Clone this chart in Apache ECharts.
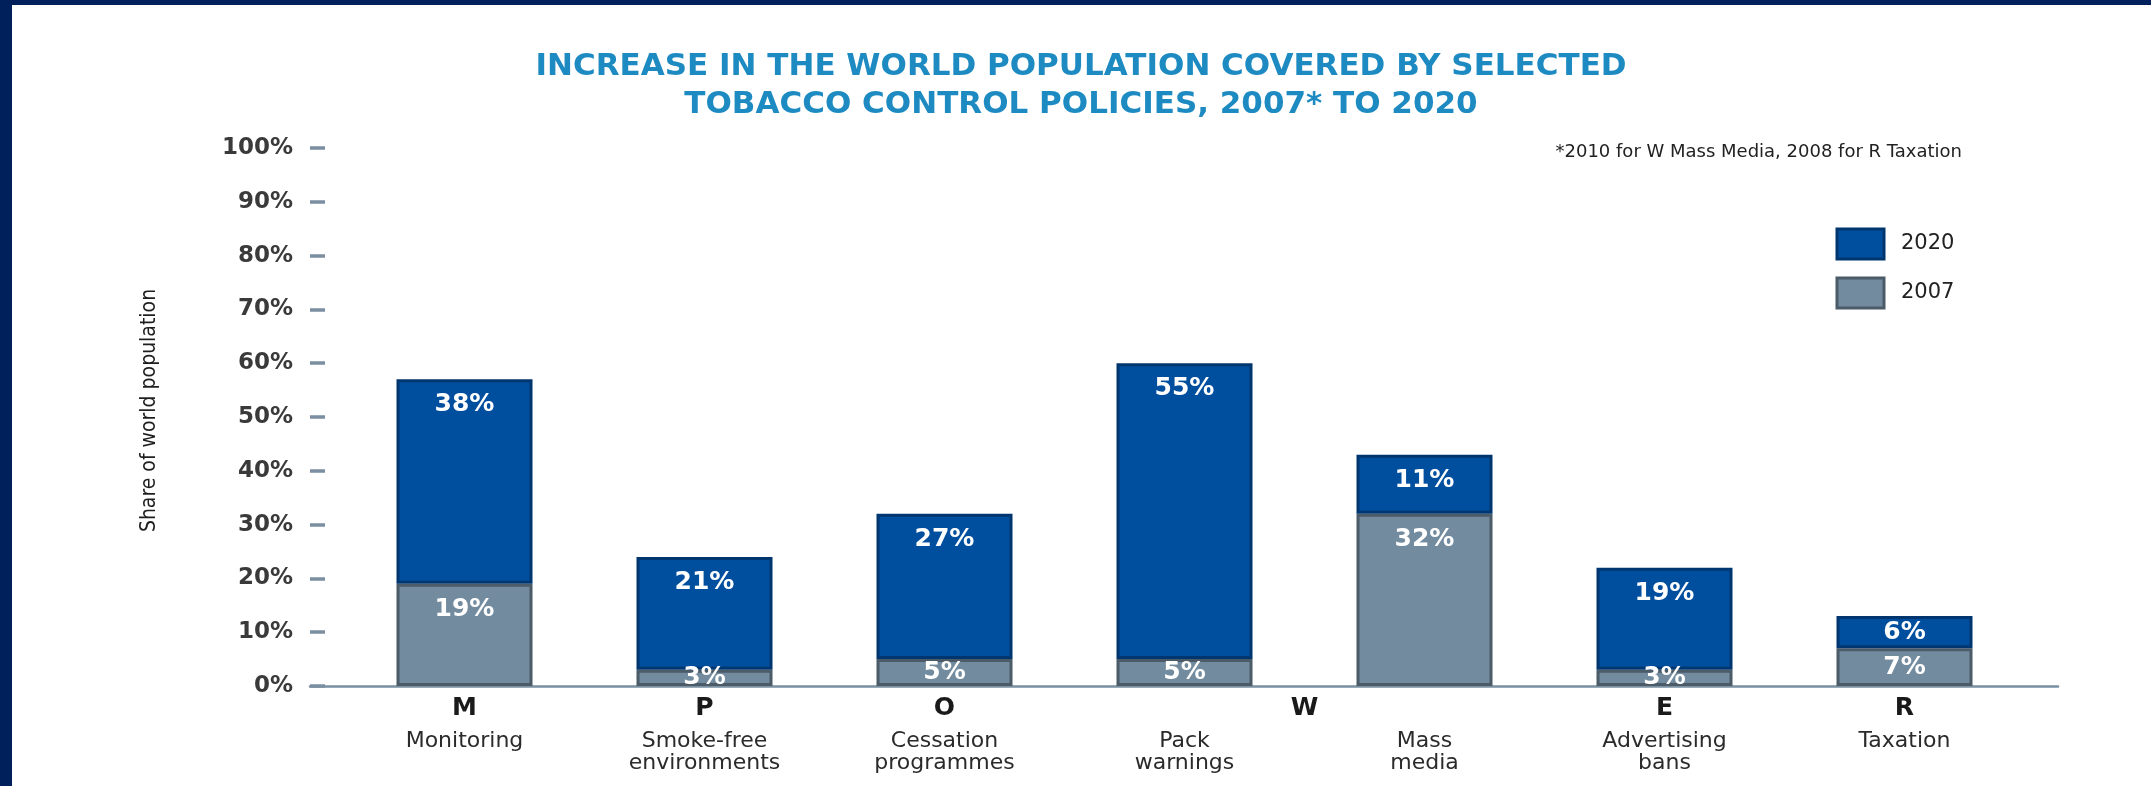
<!DOCTYPE html>
<html>
<head>
<meta charset="utf-8">
<title>Tobacco control policies coverage</title>
<script src="https://cdn.jsdelivr.net/npm/echarts@6/dist/echarts.min.js"></script>
<style>
  html, body { margin: 0; padding: 0; background: #ffffff; overflow: hidden; }
  #chart { position: absolute; left: 0; top: 0; width: 2151px; height: 786px; }
  .frame-top { position: absolute; left: 0; top: 0; width: 2151px; height: 5px; background: #00205B; }
  .frame-left { position: absolute; left: 0; top: 0; width: 12px; height: 786px; background: #00205B; }
</style>
</head>
<body>
<div id="chart"></div>
<div class="frame-top"></div>
<div class="frame-left"></div>
<script>
// MPOWER policy groups (W covers both pack warnings and mass media)
const policyCodes = ['M', 'P', 'O', 'W', 'W', 'E', 'R'];
const policyNames = ['Monitoring', 'Smoke-free\nenvironments', 'Cessation\nprogrammes', 'Pack\nwarnings', 'Mass\nmedia', 'Advertising\nbans', 'Taxation'];

// Share of world population covered in 2007 and the increase up to 2020 (%)
const coverage2007 = [19, 3, 5, 5, 32, 3, 7];
const increaseTo2020 = [38, 21, 27, 55, 11, 19, 6];

const seriesNames = ['2020', '2007'];
const titleLines = ['INCREASE IN THE WORLD POPULATION COVERED BY SELECTED', 'TOBACCO CONTROL POLICIES, 2007* TO 2020'];
const footnote = '*2010 for W Mass Media, 2008 for R Taxation';
const yAxisTitle = 'Share of world population';

const FONT = "'DejaVu Sans', 'Noto Sans', sans-serif";
const NARROW = "'Liberation Sans Narrow', 'DejaVu Sans Condensed', 'Roboto Condensed', 'Liberation Sans', sans-serif";

const W = 2151;
const plotTop = 148, plotBottom = 100;
const axisLeft = 310, axisRight = 93;
const barsLeft = 344.5, barsRight = 126.5;
const bandWidth = (W - barsLeft - barsRight) / policyNames.length;

const chart = echarts.init(document.getElementById('chart'), null, { renderer: 'canvas' });

function categoryLabel(value, index) {
  const code = policyCodes[index];
  let first;
  if (index > 0 && policyCodes[index - 1] === code) {
    first = '{l| }';
  } else if (policyCodes[index + 1] === code) {
    first = '{w|' + code + '}';
  } else {
    first = '{l|' + code + '}';
  }
  const rest = policyNames[index].split('\n').map(s => '{s|' + s + '}').join('\n');
  return first + '\n' + rest;
}

function segmentData(values) {
  return values.map(v => ({
    value: v,
    label: { position: v < 10 ? 'inside' : 'insideTop', distance: 13 }
  }));
}

const barLabel = {
  show: true,
  formatter: '{c}%',
  color: '#ffffff',
  fontFamily: FONT,
  fontWeight: 'bold',
  fontSize: 25
};

const option = {
  backgroundColor: '#ffffff',
  animation: false,
  title: [
    {
      text: titleLines.join('\n'),
      left: 1081,
      top: 48,
      textAlign: 'center',
      padding: 0,
      textStyle: {
        fontFamily: FONT,
        fontWeight: 'bold',
        fontSize: 31,
        lineHeight: 38,
        color: '#1D8BC1'
      }
    },
    {
      text: footnote,
      right: 189,
      top: 143,
      padding: 0,
      textStyle: {
        fontFamily: FONT,
        fontWeight: 'normal',
        fontSize: 18,
        lineHeight: 18,
        color: '#222222'
      }
    }
  ],
  legend: {
    data: seriesNames,
    orient: 'vertical',
    left: 1835.5,
    top: 227.5,
    padding: 0,
    itemWidth: 47,
    itemHeight: 30,
    itemGap: 16,
    icon: 'rect',
    itemStyle: { borderWidth: 3 },
    textStyle: {
      fontFamily: FONT,
      fontSize: 21,
      color: '#222222',
      padding: [0, 0, 0, 12]
    }
  },
  grid: [
    { left: axisLeft, right: axisRight, top: plotTop, bottom: plotBottom, containLabel: false },
    { left: barsLeft, right: barsRight, top: plotTop, bottom: plotBottom, containLabel: false }
  ],
  xAxis: [
    {
      gridIndex: 0,
      type: 'value',
      min: 0,
      max: 1,
      axisLine: { show: true, lineStyle: { color: '#7890A2', width: 2.5 } },
      axisTick: { show: false },
      axisLabel: { show: false },
      splitLine: { show: false }
    },
    {
      gridIndex: 1,
      type: 'category',
      data: policyNames,
      axisLine: { show: false },
      axisTick: { show: false },
      splitLine: { show: false },
      axisLabel: {
        interval: 0,
        margin: 1,
        formatter: categoryLabel,
        rich: {
          l: { fontFamily: FONT, fontWeight: 'bold', fontSize: 25, lineHeight: 43, color: '#1a1a1a' },
          w: { fontFamily: FONT, fontWeight: 'bold', fontSize: 25, lineHeight: 43, color: '#1a1a1a', padding: [0, 0, 0, bandWidth] },
          s: { fontFamily: FONT, fontSize: 22, lineHeight: 22, color: '#2b2b2b' }
        }
      }
    }
  ],
  yAxis: [
    {
      gridIndex: 0,
      type: 'value',
      min: 0,
      max: 100,
      interval: 10,
      name: yAxisTitle,
      nameLocation: 'middle',
      nameRotate: 90,
      nameGap: 149.5,
      nameTextStyle: {
        fontFamily: NARROW,
        fontSize: 21,
        color: '#1e1e1e',
        padding: [0, 0, 0, 13]
      },
      axisLine: { show: false },
      axisTick: { show: true, inside: true, length: 15, lineStyle: { color: '#7B8FA1', width: 3.5 } },
      axisLabel: {
        margin: 17,
        formatter: '{value}%',
        fontFamily: FONT,
        fontWeight: 'bold',
        fontSize: 23,
        color: '#3a3a3a'
      },
      splitLine: { show: false }
    },
    {
      gridIndex: 1,
      type: 'value',
      min: 0,
      max: 100,
      show: false,
      splitLine: { show: false }
    }
  ],
  series: [
    {
      name: '2007',
      type: 'bar',
      stack: 'coverage',
      xAxisIndex: 1,
      yAxisIndex: 1,
      barWidth: 136,
      itemStyle: { color: '#738B9F', borderColor: '#4B5B68', borderWidth: 3 },
      label: barLabel,
      data: segmentData(coverage2007)
    },
    {
      name: '2020',
      type: 'bar',
      stack: 'coverage',
      xAxisIndex: 1,
      yAxisIndex: 1,
      barWidth: 136,
      itemStyle: { color: '#004E9E', borderColor: '#00366F', borderWidth: 3 },
      label: barLabel,
      data: segmentData(increaseTo2020)
    }
  ]
};

chart.setOption(option);
</script>
</body>
</html>
